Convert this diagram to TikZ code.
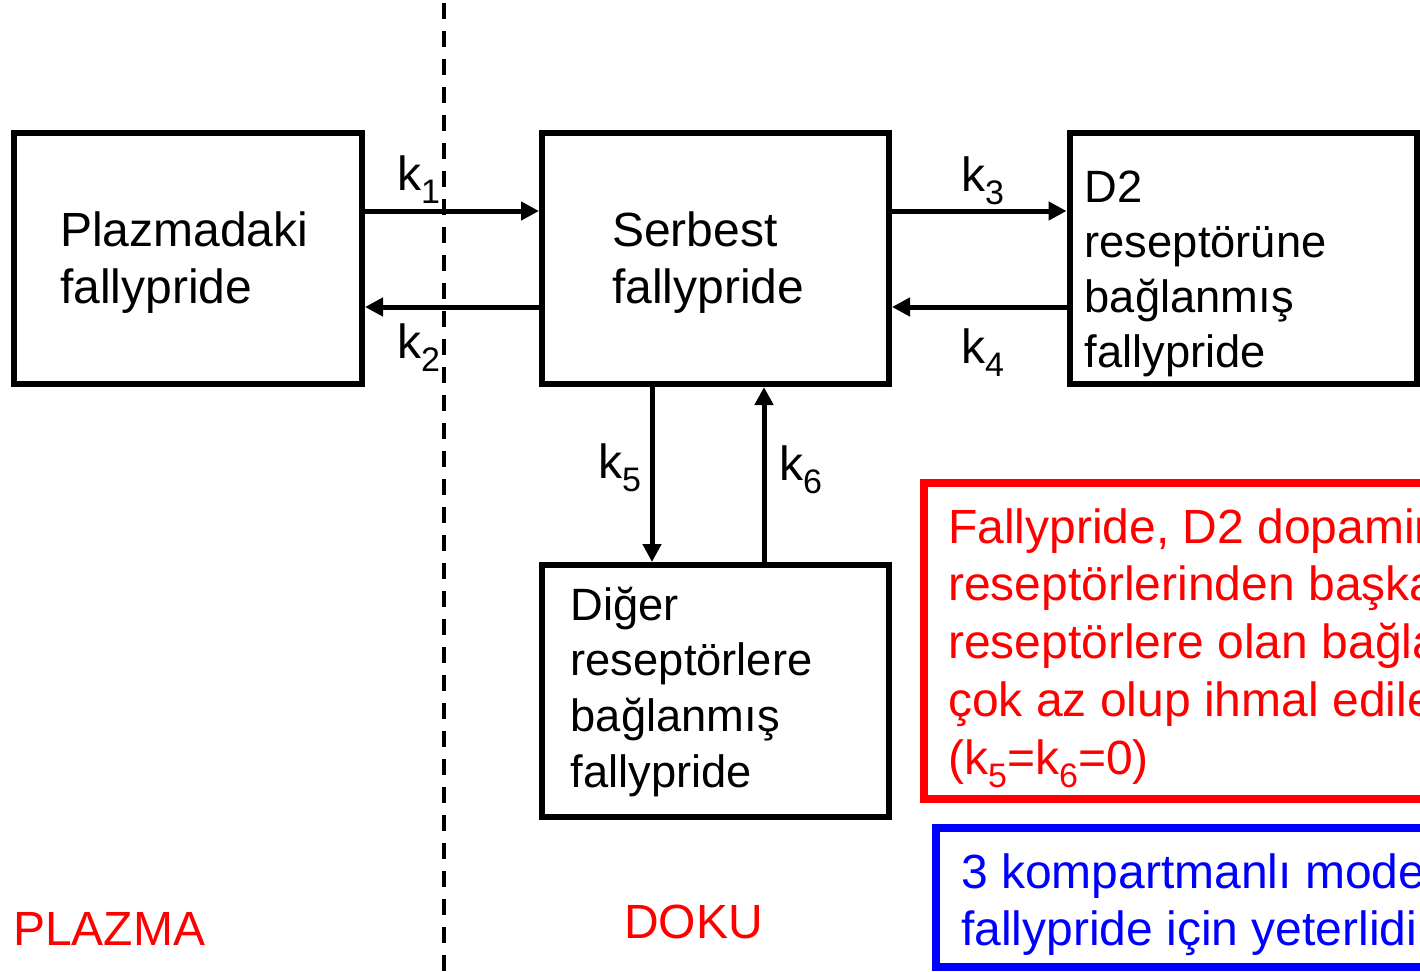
\documentclass[tikz,border=0pt]{standalone}
\usepackage{fontspec}
\setmainfont{Liberation Sans}
\usetikzlibrary{arrows.meta}
\definecolor{myred}{RGB}{255,0,0}
\definecolor{myblue}{RGB}{0,0,255}
\newcommand{\kk}[1]{k\raisebox{-13pt}{\fontsize{34}{34}\selectfont #1}}
\newcommand{\fl}{\rule{0pt}{40pt}}
\begin{document}
\begin{tikzpicture}[x=1pt,y=-1pt,
  box/.style={draw, line width=6pt, inner sep=0pt, minimum width=348pt, minimum height=251pt},
  txt/.style={anchor=north west, inner sep=0pt, align=left, font=\fontsize{48}{#1}\selectfont},
  txt/.default=57,
  smalltxt/.style={anchor=north west, inner sep=0pt, align=left, font=\fontsize{45.3}{#1}\selectfont},
  klab/.style={anchor=base west, inner sep=0pt, font=\fontsize{48}{56}\selectfont},
  arr/.style={line width=5pt, -{Triangle[length=18pt,width=18pt]}},
  divider/.style={line width=4pt, dash pattern=on 16pt off 12pt, dash phase=25pt}
]
\useasboundingbox (0,0) rectangle (1420,971);
\clip (0,0) rectangle (1420,971);

% dashed divider
\coordinate (dtop) at (444,0);
\coordinate (dbot) at (444,975);
\draw[divider] (dtop) -- (dbot);

% boxes
\node[box] (plz) at (188,258.5) {};
\node[box, minimum width=347pt] (ser) at (715.5,258.5) {};
\node[box, minimum width=347pt] (d2) at (1243,258.5) {};
\node[box, minimum width=347pt, minimum height=252pt] (dig) at (715.5,691) {};

% box texts
\node[txt] (plztxt) at (60,206) {\fl Plazmadaki\\fallypride};
\node[txt] (sertxt) at (612,206) {\fl Serbest\\fallypride};
\node[smalltxt=55] (d2txt) at (1084.5,162) {\fl D2\\reseptörüne\\bağlanmış\\fallypride};
\node[smalltxt=55.7] (digtxt) at (570.5,580) {\fl Diğer\\reseptörlere\\bağlanmış\\fallypride};

% arrows
\draw[arr] ([yshift=47.5pt]plz.east) -- ([yshift=47.5pt]ser.west);
\draw[arr] ([yshift=-48.5pt]ser.west) -- ([yshift=-48.5pt]plz.east);
\draw[arr] ([yshift=47.5pt]ser.east) -- ([yshift=47.5pt]d2.west);
\draw[arr] ([yshift=-48.5pt]d2.west) -- ([yshift=-48.5pt]ser.east);
\draw[arr] ([xshift=-63.5pt]ser.south) -- ([xshift=-63.5pt]dig.north);
\draw[arr] ([xshift=48.5pt]dig.north) -- ([xshift=48.5pt]ser.south);

% rate labels
\node[klab] (k1) at (397,190) {\kk{1}};
\node[klab] (k2) at (397,358) {\kk{2}};
\node[klab] (k3) at (961,191) {\kk{3}};
\node[klab] (k4) at (961,363) {\kk{4}};
\node[klab] (k5) at (598,478) {\kk{5}};
\node[klab] (k6) at (779,480) {\kk{6}};

% note boxes
\draw[myred, line width=8pt] (924,483) rectangle (1460,799);
\node[txt=57.7, text=myred] (redtxt) at (948,503) {\fl Fallypride, D2 dopamin\\reseptörlerinden başka\\reseptörlere olan bağla\\çok az olup ihmal edile\\(\kk{5}=\kk{6}=0)};
\draw[myblue, line width=8pt] (936,828) rectangle (1460,967);
\node[txt=57, text=myblue] (bluetxt) at (961,848) {\fl 3 kompartmanlı mode\\fallypride için yeterlidir};

% region labels
\node[klab, text=myred] (plazma) at (13,945) {PLAZMA};
\node[klab, text=myred] (doku) at (624,938) {DOKU};
\end{tikzpicture}
\end{document}
